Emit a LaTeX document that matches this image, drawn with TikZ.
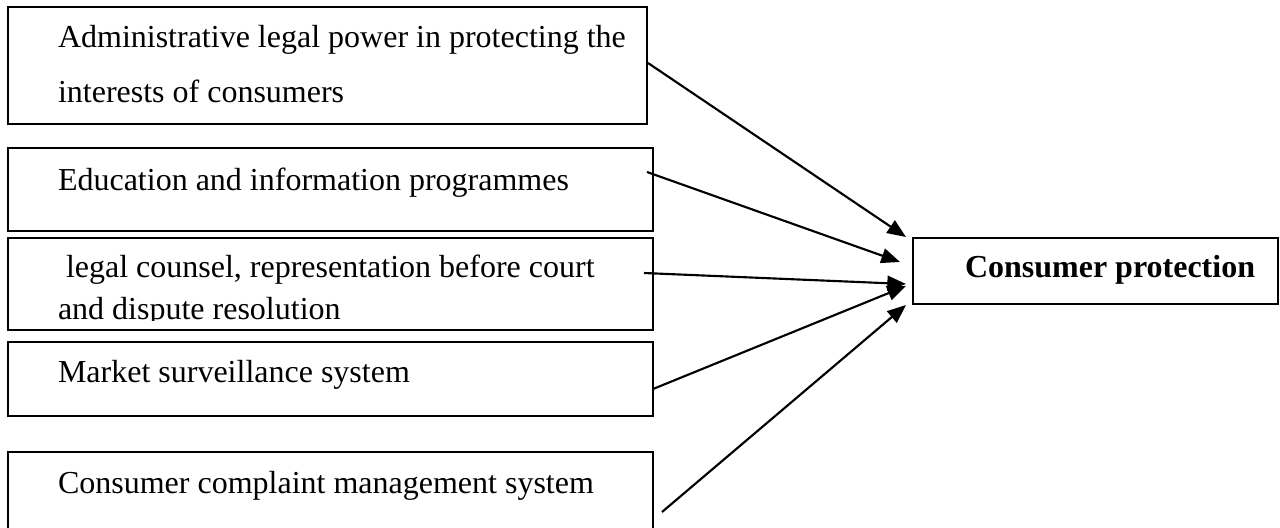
\documentclass[tikz,border=0pt]{standalone}
\usepackage{fontspec}
\setmainfont{Liberation Serif}
\usetikzlibrary{arrows.meta,positioning}

\begin{document}
\begin{tikzpicture}[x=0.375pt, y=-0.375pt,
  every node/.style={font=\fontsize{12}{14}\selectfont},
  panel/.style={draw, rectangle, line width=0.6pt, inner sep=0pt, outer sep=0pt},
  entry/.style={anchor=base west, inner sep=0pt, outer sep=0pt},
  feed/.style={-{Triangle[length=7pt,width=5.6pt]}, line width=0.8pt}]
  \useasboundingbox (0,0) rectangle (1280,527);

  % boxes on the left, stacked
  \node[panel, minimum width=239.6pt, minimum height=43.9pt, anchor=north west] (admin) at (8,7) {};
  \node[panel, below=9pt of admin.south west, minimum width=241.9pt, minimum height=31.1pt, anchor=north west] (edu) {};
  \node[panel, below=2.6pt of edu.south west, minimum width=241.9pt, minimum height=34.5pt, anchor=north west] (legal) {};
  \node[panel, below=4.5pt of legal.south west, minimum width=241.9pt, minimum height=27.8pt, anchor=north west] (market) {};
  \node[panel, below=13.5pt of market.south west, minimum width=241.9pt, minimum height=40.5pt, anchor=north west] (complaint) {};

  % target
  \node[panel, right=97.5pt of legal.north east, minimum width=136.9pt, minimum height=24.8pt, anchor=north west] (protect) {};

  % texts
  \node[entry] (admin-a) at (58,47) {Administrative legal power in protecting the};
  \node[entry] (admin-b) at (58,102) {interests of consumers};
  \node[entry] (edu-a) at (58,190) {Education and information programmes};
  \node[entry] (legal-a) at (58,277) {\ legal counsel, representation before court};
  \begin{scope}
    \clip (0,0) rectangle (1280,320);
    \node[entry] (legal-b) at (58,319) {and dispute resolution};
  \end{scope}
  \node[entry] (market-a) at (58,382) {Market surveillance system};
  \node[entry] (complaint-a) at (58,493) {Consumer complaint management system};
  \node[entry, font=\fontsize{12}{14}\selectfont\bfseries] (protect-a) at (965,277) {Consumer protection};

  % arrow ends
  \coordinate (s1) at (648,63);
  \coordinate (s2) at (647,172);
  \coordinate (s3) at (644,273);
  \coordinate (s4) at (653,389);
  \coordinate (s5) at (662,512);
  \coordinate (e1) at (906,237);
  \coordinate (e2) at (900,262);
  \coordinate (e3) at (906,284);
  \coordinate (e4) at (906,286);
  \coordinate (e5) at (906,305);

  \draw[feed] (s1) -- (e1);
  \draw[feed] (s2) -- (e2);
  \draw[feed] (s3) -- (e3);
  \draw[feed] (s4) -- (e4);
  \draw[feed] (s5) -- (e5);
\end{tikzpicture}
\end{document}
